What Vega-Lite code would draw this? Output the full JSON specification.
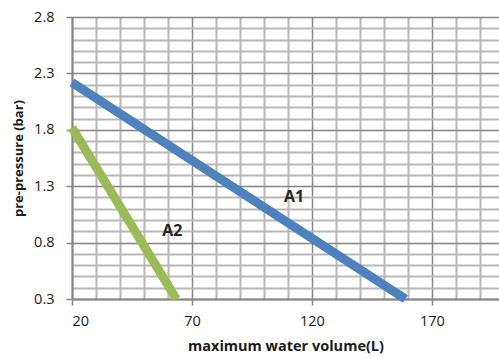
{
  "$schema": "https://vega.github.io/schema/vega-lite/v6.json",
  "autosize": "none",
  "width": 427,
  "height": 282,
  "padding": {"left": 72, "top": 17, "right": 0, "bottom": 59},
  "background": "white",
  "config": {"view": {"stroke": null}, "font": "Open Sans"},
  "datasets": {
    "lines": [
      {"series": "A1", "volume": 20, "pressure": 2.22},
      {"series": "A1", "volume": 159, "pressure": 0.3},
      {"series": "A2", "volume": 20, "pressure": 1.82},
      {"series": "A2", "volume": 63.5, "pressure": 0.3}
    ],
    "labels": [
      {"label": "A1", "volume": 112.6, "pressure": 1.2},
      {"label": "A2", "volume": 61.8, "pressure": 0.9}
    ]
  },
  "layer": [
    {
      "data": {"name": "lines"},
      "mark": {"type": "line", "opacity": 0},
      "encoding": {
        "x": {"field": "volume", "type": "quantitative", "scale": {"domain": [20, 198], "nice": false, "zero": false},
          "axis": {"orient": "bottom", "values": [30,40,50,60,80,90,100,110,130,140,150,160,180,190], "grid": true, "gridColor": "#b8b8b8", "gridWidth": 2, "labels": false, "ticks": false, "domain": false, "title": null}},
        "y": {"field": "pressure", "type": "quantitative", "scale": {"domain": [0.3, 2.8], "nice": false, "zero": false},
          "axis": {"orient": "left", "values": [0.4,0.5,0.6,0.7,0.9,1.0,1.1,1.2,1.4,1.5,1.6,1.7,1.9,2.0,2.1,2.2,2.4,2.5,2.6,2.7], "grid": true, "gridColor": "#b8b8b8", "gridWidth": 2, "labels": false, "ticks": false, "domain": false, "title": null}}
      }
    },
    {
      "data": {"name": "lines"},
      "mark": {"type": "line", "strokeWidth": 9, "strokeCap": "butt"},
      "encoding": {
        "x": {"field": "volume", "type": "quantitative",
          "axis": {"orient": "bottom", "values": [20,70,120,170], "grid": true, "gridColor": "#858585", "gridWidth": 1.5,
            "domainColor": "#858585", "domainWidth": 2, "tickColor": "#858585", "tickWidth": 1.5, "tickSize": 6,
            "labelFont": "Open Sans", "labelFontSize": 14.5, "labelColor": "#1a1a1a", "labelPadding": 9,
            "title": "maximum  water volume(L)", "titleFont": "Open Sans", "titleFontSize": 14.5, "titleFontWeight": "bold", "titleColor": "#1a1a1a", "titlePadding": 12}},
        "y": {"field": "pressure", "type": "quantitative",
          "axis": {"orient": "left", "values": [0.3,0.8,1.3,1.8,2.3,2.8], "format": ".1f", "grid": true, "gridColor": "#858585", "gridWidth": 1.5,
            "domainColor": "#858585", "domainWidth": 2, "tickColor": "#858585", "tickWidth": 1.5, "tickSize": 6,
            "labelFont": "Open Sans", "labelFontSize": 14.5, "labelColor": "#1a1a1a", "labelPadding": 12,
            "title": "pre-pressure (bar)", "titleFont": "Open Sans", "titleFontSize": 13, "titleFontWeight": "bold", "titleColor": "#1a1a1a", "titlePadding": 8}},
        "color": {"field": "series", "type": "nominal", "scale": {"domain": ["A1","A2"], "range": ["#4F81BD", "#9BBB59"]}, "legend": null}
      }
    },
    {
      "data": {"name": "labels"},
      "mark": {"type": "text", "font": "Open Sans", "fontSize": 16, "fontWeight": "bold", "color": "#262626"},
      "encoding": {
        "x": {"field": "volume", "type": "quantitative", "axis": null},
        "y": {"field": "pressure", "type": "quantitative", "axis": null},
        "text": {"field": "label"}
      }
    }
  ],
  "resolve": {"axis": {"x": "independent", "y": "independent"}}
}
